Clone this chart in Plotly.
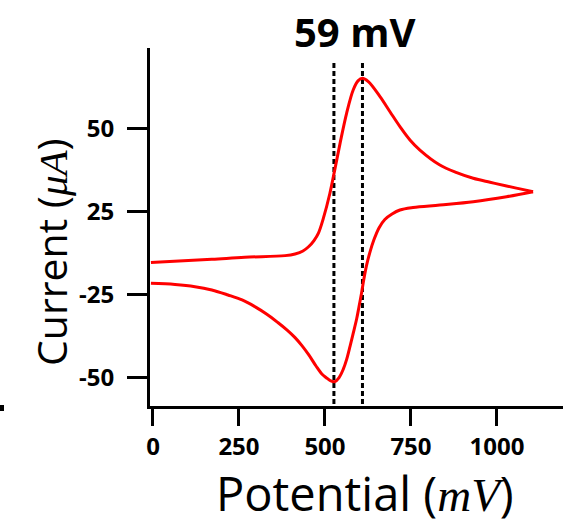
import plotly.graph_objects as go

# ---- data (potential in mV, current on the chart's internal scale) ----
fwd_potential = [-6, 171, 267, 384, 413, 436, 453, 468, 481, 495, 514, 529, 544, 563, 582, 596, 609,
                 626, 660, 689, 718, 747, 776, 834, 883, 931, 980, 1028, 1067, 1105]
fwd_current = [-5.5, -3.5, -2.3, -1.3, -0.3, 1.5, 4.2, 7.8, 12.3, 21.0, 36.0, 51.0, 66.5, 84.6, 98.5, 104.0, 105.5,
               103.5, 94.5, 85.4, 76.4, 68.4, 62.3, 53.3, 48.7, 45.3, 42.9, 40.7, 38.9, 37.2]

rev_potential = [1105, 1028, 931, 834, 756, 718, 695, 674, 657, 642, 631, 621, 613, 607, 599, 592, 581, 573,
                 563, 553, 541, 529, 517, 503, 491, 474, 453, 433, 413, 390, 363, 331, 296, 259, 218, 171, 122, 64, -6]
rev_current = [37.2, 34.2, 31.2, 29.2, 27.7, 26.2, 23.8, 20.5, 15.4, 8.1, 1.0, -7.0, -15.5, -23.0, -32.0, -39.5, -49.0, -55.8,
               -63.8, -69.8, -74.8, -77.2, -76.8, -74.7, -72.6, -67.8, -61.1, -55.5, -50.7, -46.2, -41.6, -36.6, -32.0,
               -28.0, -25.0, -22.0, -20.0, -18.7, -18.0]

peak_potentials = [526, 609]   # cathodic / anodic peak markers
marker_top = 114.8

x_tick_vals = [0, 250, 500, 750, 1000]
x_tick_text = ["0", "250", "500", "750", "1000"]
y_tick_vals = [75, 25, -25, -75]
y_tick_text = ["50", "25", "-25", "-50"]

title_text = "59 mV"

x_range = [-8.7, 1192]
y_range = [-91.9, 123.8]

fig = go.Figure()

for xp in peak_potentials:
    fig.add_trace(go.Scatter(
        x=[xp, xp], y=[marker_top, y_range[0]], mode="lines",
        line=dict(color="black", width=3, dash="5px,3px"),
        hoverinfo="skip", showlegend=False))

for xs, ys in [(fwd_potential, fwd_current), (rev_potential, rev_current)]:
    fig.add_trace(go.Scatter(
        x=xs, y=ys, mode="lines",
        line=dict(color="#ff0000", width=3, shape="spline", smoothing=1.0),
        showlegend=False))

tickfont = dict(family="Open Sans", size=24, color="black", weight=700)

fig.update_layout(
    width=572, height=520,
    margin=dict(l=150, r=9, t=48, b=114),
    paper_bgcolor="white", plot_bgcolor="white",
    font=dict(family="Open Sans", color="black"),
    showlegend=False,
    xaxis=dict(
        range=x_range, showgrid=False, zeroline=False,
        showline=True, linecolor="black", linewidth=3,
        ticks="outside", ticklen=17, tickwidth=3, tickcolor="black",
        tickvals=x_tick_vals, ticktext=x_tick_text, tickfont=tickfont,
        ticklabelstandoff=0,
    ),
    yaxis=dict(
        range=y_range, showgrid=False, zeroline=False,
        showline=True, linecolor="black", linewidth=3,
        ticks="outside", ticklen=20, tickwidth=3, tickcolor="black",
        tickvals=y_tick_vals, ticktext=y_tick_text, tickfont=tickfont,
        ticklabelstandoff=8,
    ),
    annotations=[
        dict(text="<b>" + title_text + "</b>", xref="paper", yref="paper",
             x=0.494, y=1.047, xanchor="center", yanchor="middle",
             showarrow=False, font=dict(family="Open Sans", size=40, color="black")),
        dict(text="Potential (<span style='font-family:Liberation Serif;font-style:italic'>mV</span>)",
             xref="paper", yref="paper", x=0.5206, y=-0.2430,
             xanchor="center", yanchor="middle", showarrow=False,
             font=dict(family="Open Sans", size=47, color="black")),
        dict(text="Current (<span style='font-family:Liberation Serif;font-style:italic'>μA</span>)",
             xref="paper", yref="paper", x=-0.2397, y=0.430, textangle=-90,
             xanchor="center", yanchor="middle", showarrow=False,
             font=dict(family="Open Sans", size=41, color="black")),
    ],
    shapes=[
        dict(type="rect", xref="paper", yref="paper",
             x0=-0.3632, x1=-0.3535, y0=-0.014, y1=0.0028,
             fillcolor="black", line=dict(width=0)),
    ],
)

fig.write_html("out.html")
